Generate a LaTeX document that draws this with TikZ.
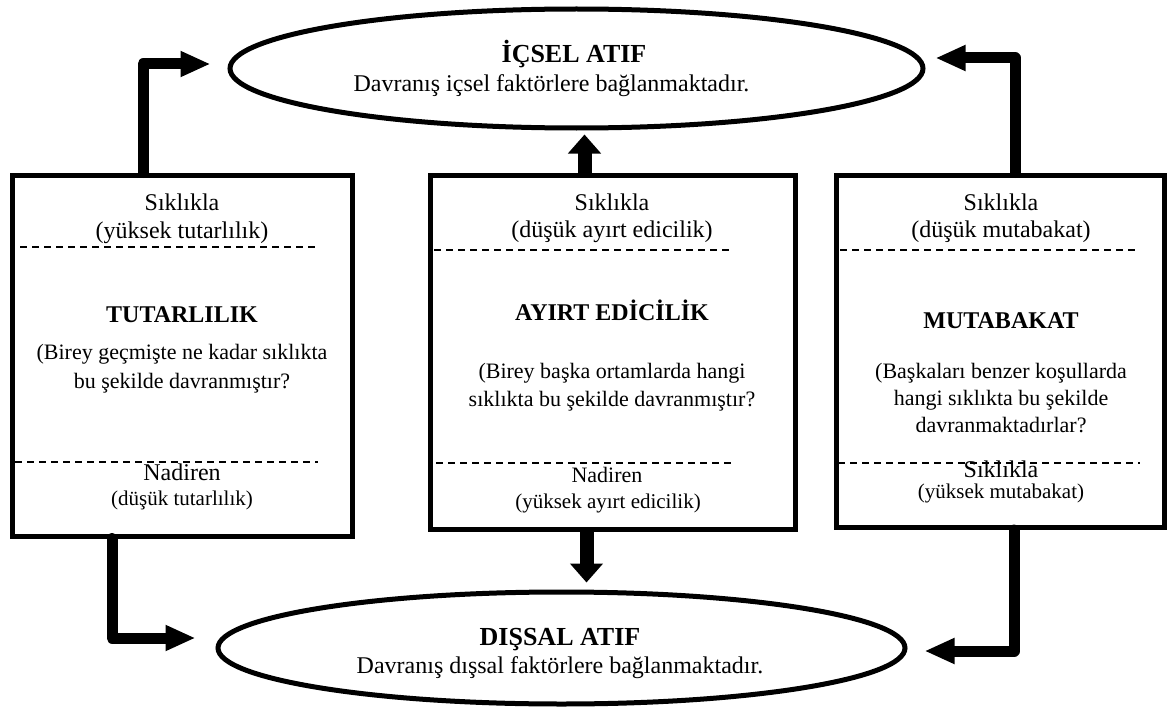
\documentclass[tikz,border=0pt]{standalone}
\usepackage{fontspec}
\setmainfont{Liberation Serif}
\usetikzlibrary{arrows.meta,shapes.geometric}

\begin{document}
\begin{tikzpicture}[x=1pt,y=-1pt,
  panel/.style={draw, line width=5pt, rectangle, inner sep=0pt},
  oval/.style={draw, line width=5pt, ellipse, inner sep=0pt},
  dashline/.style={line width=1.5pt, dash pattern=on 7pt off 5pt},
  txt/.style={inner sep=0pt, anchor=base},
  lbl/.style={txt, font=\fontsize{24}{27.6}\selectfont},
  desc/.style={txt, font=\fontsize{22}{25.3}\selectfont},
  note/.style={txt, font=\fontsize{21}{24}\selectfont},
  ttl/.style={txt, font=\fontsize{24}{27.6}\selectfont\bfseries},
  otitle/.style={txt, font=\fontsize{26}{30}\selectfont\bfseries},
  sidearrow/.style={line width=11pt, line join=round, line cap=round,
    -{Triangle[length=30pt,width=24pt]}},
  midarrow/.style={line width=14pt, -{Triangle[length=19pt,width=32pt]}}
]
\useasboundingbox (0,0) rectangle (1168,709);

% attribution ovals
\node[oval, minimum width=693pt, minimum height=119pt] (top) at (576.5,68.5) {};
\node[oval, minimum width=687pt, minimum height=112pt] (bot) at (561.5,648) {};

% information panels
\node[panel, minimum width=340pt, minimum height=361pt] (lbox) at (182,355.5) {};
\node[panel, minimum width=365pt, minimum height=354.5pt] (mbox) at (612.5,352.25) {};
\node[panel, minimum width=328pt, minimum height=352.5pt] (rbox) at (1000.5,351.25) {};

% oval texts
\node[otitle] (topT) at (574,63) {İÇSEL ATIF};
\node[lbl] (topS) at (551.5,92) {Davranış içsel faktörlere bağlanmaktadır.};
\node[otitle] (botT) at (560,645) {DIŞSAL ATIF};
\node[lbl] (botS) at (560,673) {Davranış dışsal faktörlere bağlanmaktadır.};

% left panel
\draw[dashline] (20,247) -- (318,247);
\draw[dashline] (15,462) -- (318,462);
\node[lbl] (l1) at (182,210) {Sıklıkla};
\node[lbl] (l2) at (182,238) {(yüksek tutarlılık)};
\node[ttl] (l3) at (182,322) {TUTARLILIK};
\node[desc] (l4) at (182,359) {(Birey geçmişte ne kadar sıklıkta};
\node[desc] (l5) at (182,388) {bu şekilde davranmıştır?};
\node[lbl] (l6) at (182,480) {Nadiren};
\node[note] (l7) at (182,505) {(düşük tutarlılık)};

% middle panel
\draw[dashline] (434,250) -- (730,250);
\draw[dashline] (436,463) -- (732,463);
\node[lbl] (m1) at (612,210) {Sıklıkla};
\node[lbl] (m2) at (612,237) {(düşük ayırt edicilik)};
\node[ttl] (m3) at (612,320) {AYIRT EDİCİLİK};
\node[desc] (m4) at (612,378) {(Birey başka ortamlarda hangi};
\node[desc] (m5) at (612,406) {sıklıkta bu şekilde davranmıştır?};
\node[desc] (m6) at (607,482) {Nadiren};
\node[note] (m7) at (608,508) {(yüksek ayırt edicilik)};

% right panel
\draw[dashline] (840,250) -- (1138,250);
\draw[dashline] (838,463) -- (1140,463);
\node[lbl] (r1) at (1001,210) {Sıklıkla};
\node[lbl] (r2) at (1001,237) {(düşük mutabakat)};
\node[ttl] (r3) at (1001,328) {MUTABAKAT};
\node[desc] (r4) at (1001,378) {(Başkaları benzer koşullarda};
\node[desc] (r5) at (1001,405) {hangi sıklıkta bu şekilde};
\node[desc] (r6) at (1001,432) {davranmaktadırlar?};
\node[lbl] (r7) at (1001,477) {Sıklıkla};
\node[note] (r8) at (1001,498) {(yüksek mutabakat)};

% connectors
\draw[sidearrow] ([xshift=-39pt]lbox.north) |- ([xshift=-17pt,yshift=4.5pt]top.west);
\draw[sidearrow] ([xshift=14.5pt]rbox.north) |- ([xshift=10pt,yshift=10.5pt]top.east);
\draw[sidearrow] ([xshift=-70pt]lbox.south) |- ([xshift=-20pt,yshift=10pt]bot.west);
\draw[sidearrow] ([xshift=13.5pt]rbox.south) |- ([xshift=17pt,yshift=-3pt]bot.east);

\coordinate (mup) at ([xshift=-28pt]mbox.north);
\coordinate (mdn) at ([xshift=-26pt]mbox.south);
\draw[midarrow, shorten >=4pt] (mup) -- (mup |- top.south);
\draw[midarrow, shorten >=7pt] (mdn) -- (mdn |- bot.north);
\end{tikzpicture}
\end{document}
